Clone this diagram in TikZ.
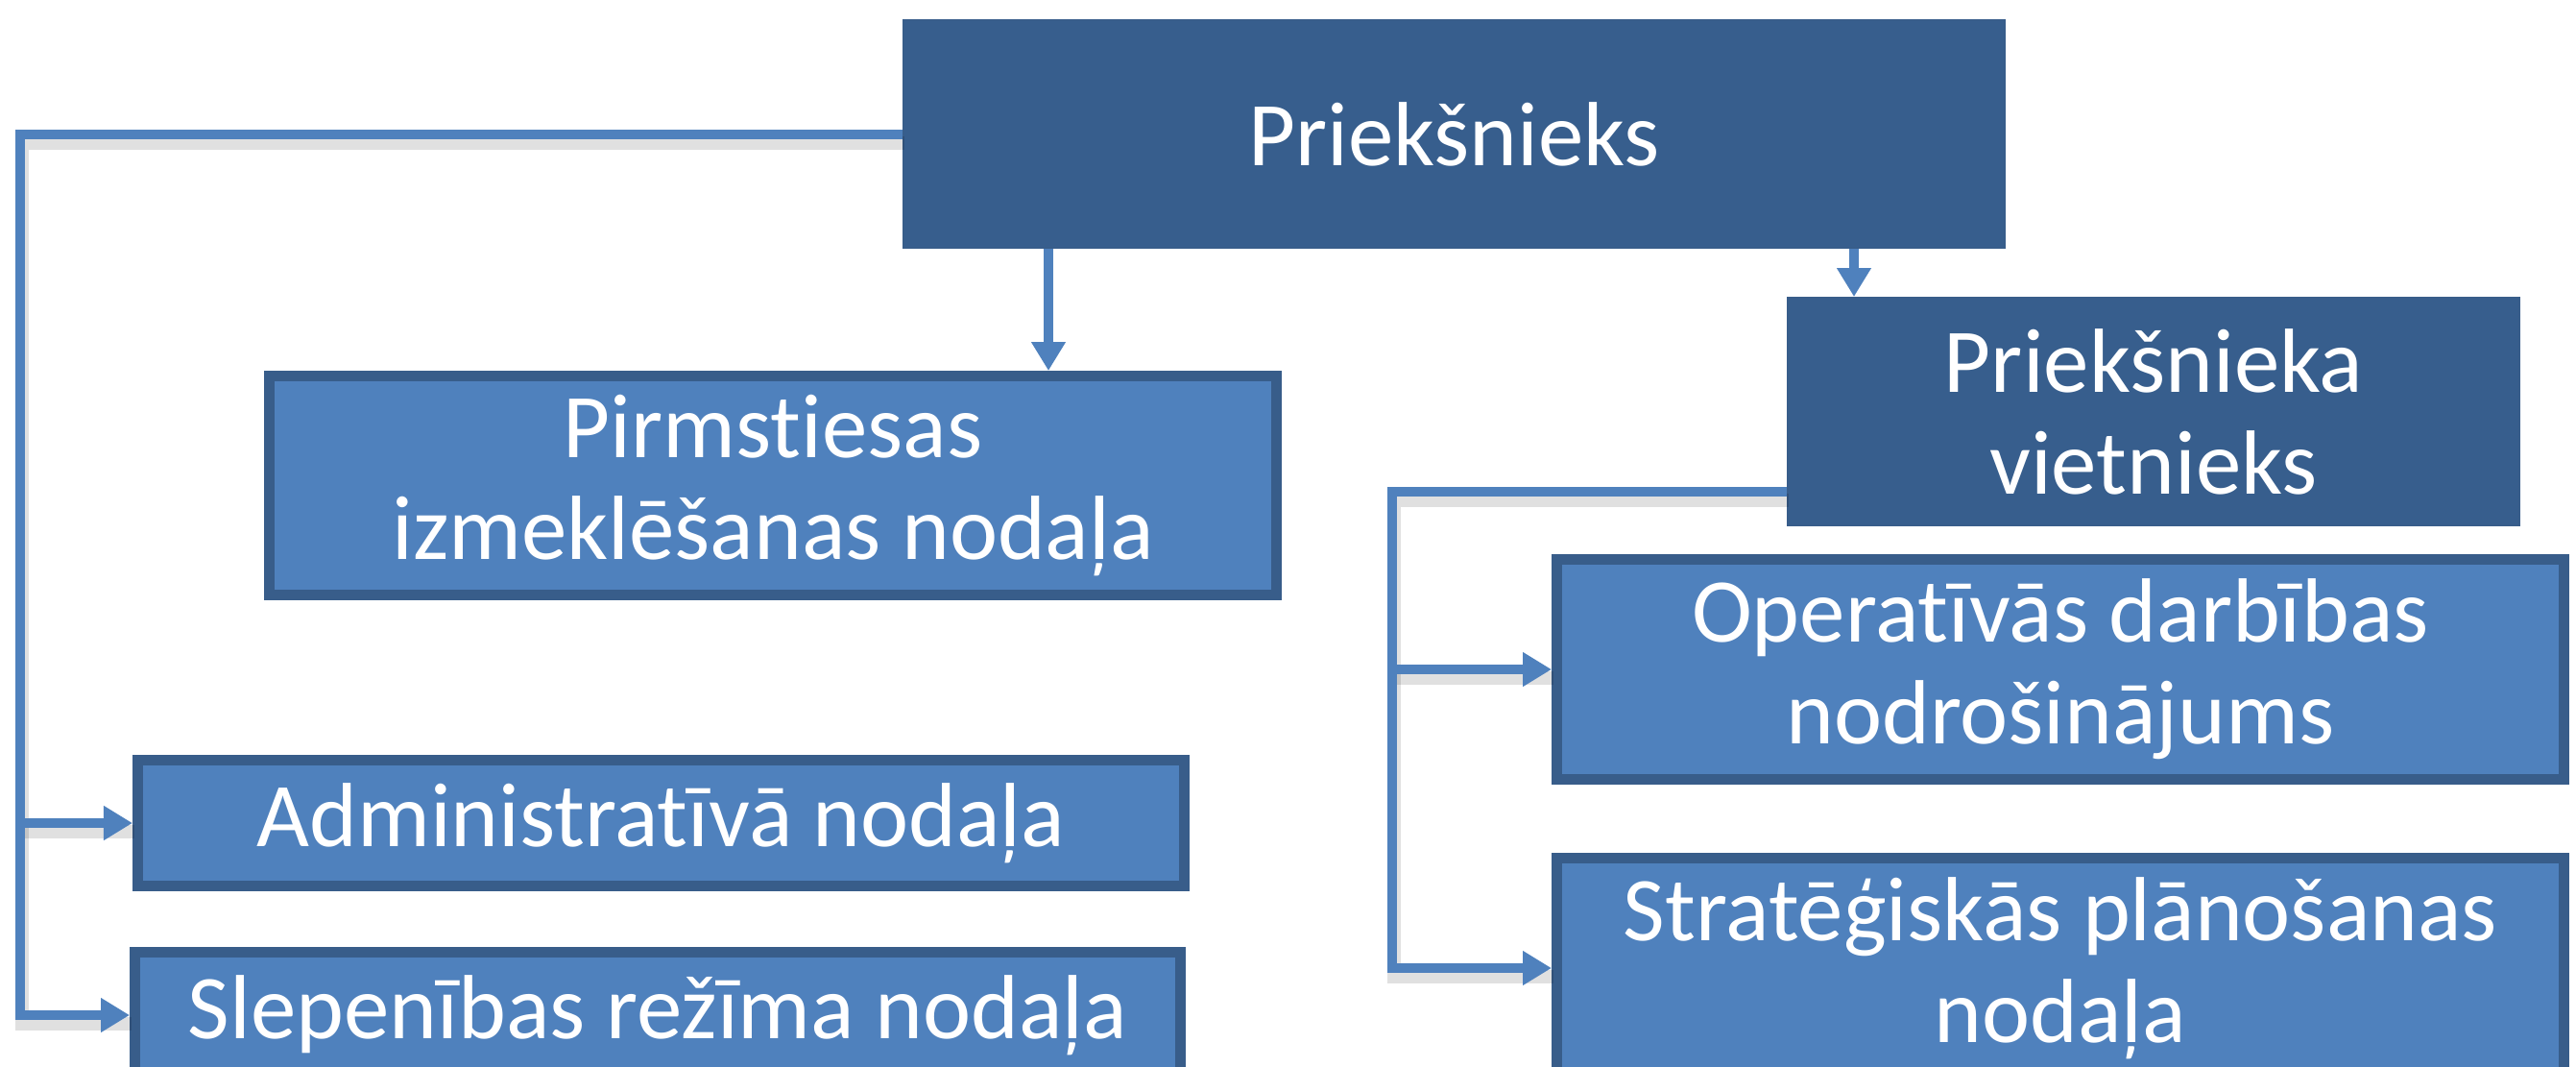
\documentclass[tikz,border=0pt]{standalone}
\usepackage{fontspec}
\setmainfont[Ligatures=NoCommon]{Carlito}
\usetikzlibrary{arrows.meta,calc}
\definecolor{lightbox}{RGB}{79,129,189}
\definecolor{boxedge}{RGB}{56,93,138}
\definecolor{darkbox}{RGB}{55,94,141}
\definecolor{conncol}{RGB}{79,129,189}
\begin{document}
\begin{tikzpicture}[x=1cm,y=1cm,
  txt/.style={text=white, align=center, inner sep=0pt, font=\fontsize{27}{30.2}\selectfont},
  lbox/.style={txt, draw=boxedge, fill=lightbox, line width=0.11cm},
  dbox/.style={txt, draw=boxedge, fill=darkbox, line width=0.02cm},
  conn/.style={draw=conncol, line width=0.1cm},
  tip/.style={-{Triangle[length=0.3cm,width=0.34cm]}},
  shade/.style={draw=black, opacity=0.12, line width=0.14cm, transform canvas={shift={(0.02,-0.09)}}}
]
\useasboundingbox (0,0) rectangle (26.83,-11.11);

% connector columns
\coordinate (Lx) at (0.21,0);
\coordinate (Rx) at (14.50,0);
\coordinate (A1) at (10.92,0);
\coordinate (A2) at (19.31,0);

% nodes
\node[dbox, minimum width=11.47cm, minimum height=2.37cm] (boss) at (15.145,-1.395) {Priekšnieks};
\node[dbox, minimum width=7.62cm, minimum height=2.37cm] (deputy) at (22.43,-4.285) {Priekšnieka\\vietnieks};
\coordinate (Dy) at (0,-5.12);
\node[lbox, minimum width=10.49cm, minimum height=2.28cm] (pirm) at (8.05,-5.055) {Pirmstiesas\\izmeklēšanas nodaļa};
\node[lbox, minimum width=10.90cm, minimum height=1.31cm] (admin) at (6.885,-8.57) {Administratīvā nodaļa};
\node[lbox, minimum width=10.89cm, minimum height=1.31cm] (slep) at (6.85,-10.57) {Slepenības režīma nodaļa};
\node[lbox, minimum width=10.49cm, minimum height=2.29cm] (oper) at (21.46,-6.97) {Operatīvās darbības\\nodrošinājums};
\node[lbox, minimum width=10.49cm, minimum height=2.29cm] (strat) at (21.46,-10.08) {Stratēģiskās plānošanas\\nodaļa};

% shadows of connectors
\draw[shade] (boss.west) -- (boss.west -| Lx) -- (Lx |- slep.west) -- (slep.west);
\draw[shade] (Lx |- admin.west) -- (admin.west);
\draw[shade] (deputy.west |- Dy) -- (Rx |- Dy) -- (Rx |- strat.west) -- (strat.west);
\draw[shade] (Rx |- oper.west) -- (oper.west);

% connectors
\draw[conn,tip] (boss.west) -- (boss.west -| Lx) -- (Lx |- slep.west) -- (slep.west);
\draw[conn,tip] (Lx |- admin.west) -- (admin.west);
\draw[conn,tip] (A1 |- boss.south) -- (A1 |- pirm.north);
\draw[conn,tip] (A2 |- boss.south) -- (A2 |- deputy.north);
\draw[conn,tip] (deputy.west |- Dy) -- (Rx |- Dy) -- (Rx |- strat.west) -- (strat.west);
\draw[conn,tip] (Rx |- oper.west) -- (oper.west);
\end{tikzpicture}
\end{document}
